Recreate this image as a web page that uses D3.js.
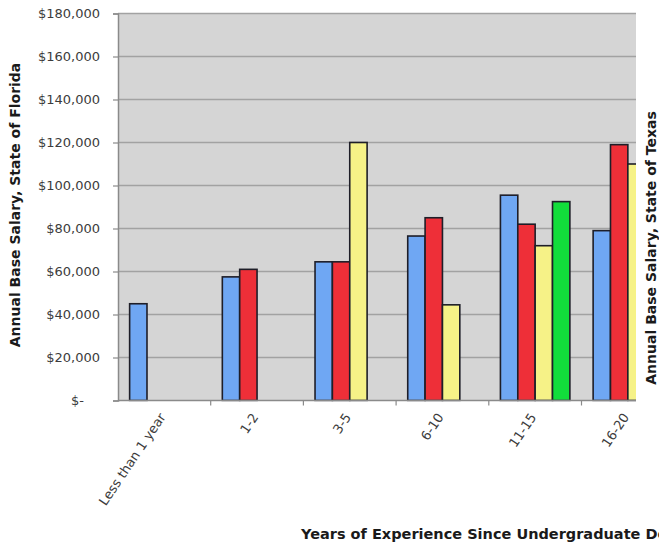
<!DOCTYPE html>
<html>
<head>
<meta charset="utf-8">
<script src="https://cdn.jsdelivr.net/npm/d3@7/dist/d3.min.js"></script>
<style>
  html, body { margin: 0; padding: 0; background: #fff; }
  svg { display: block; }
  text { font-family: "DejaVu Sans", Verdana, sans-serif; }
</style>
</head>
<body>
<svg id="chart" width="659" height="543"></svg>
<script>
// Experience bands along the x axis
const categories = ["Less than 1 year", "1-2", "3-5", "6-10", "11-15", "16-20"];

// Salary series (null = no bar in that band)
const seriesBlue   = [45000, 57500, 64500, 76500, 95500, 79000];
const seriesRed    = [null, 61000, 64500, 85000, 82000, 119000];
const seriesYellow = [null, null, 120000, 44500, 72000, 110000];
const seriesGreen  = [null, null, null, null, 92500, null];

const seriesNames = ["blue", "red", "yellow", "green"];
const seriesValues = [seriesBlue, seriesRed, seriesYellow, seriesGreen];
const seriesColors = ["#6fa7f3", "#ee2f38", "#f6f287", "#12dd3b"];

// Axis ticks
const yTicks = [0, 20000, 40000, 60000, 80000, 100000, 120000, 140000, 160000, 180000];

const svg = d3.select("#chart");

const plot = { left: 118, right: 636, top: 13.5, bottom: 400.5 };
const bandStep = 92.7;

const x0 = d3.scaleBand()
  .domain(categories)
  .range([plot.left, plot.left + bandStep * categories.length])
  .paddingInner(0)
  .paddingOuter(0);

const x1 = d3.scaleBand()
  .domain(seriesNames)
  .range([0, x0.bandwidth()])
  .paddingInner(0)
  .paddingOuter(0.67);

const y = d3.scaleLinear()
  .domain([0, 180000])
  .range([plot.bottom, plot.top]);

// Plot background
svg.append("rect")
  .attr("x", plot.left)
  .attr("y", plot.top)
  .attr("width", plot.right - plot.left)
  .attr("height", plot.bottom - plot.top)
  .attr("fill", "#d5d5d5");

// Horizontal gridlines
svg.append("g")
  .selectAll("line")
  .data(yTicks.filter(d => d > 0))
  .join("line")
  .attr("x1", plot.left)
  .attr("x2", plot.right)
  .attr("y1", d => y(d))
  .attr("y2", d => y(d))
  .attr("stroke", "#a2a2a2")
  .attr("stroke-width", 1.6);

svg.append("clipPath")
  .attr("id", "plotClip")
  .append("rect")
  .attr("x", plot.left)
  .attr("y", 0)
  .attr("width", plot.right - plot.left)
  .attr("height", plot.bottom + 1);

// Bars
const rows = [];
categories.forEach((c, i) => {
  seriesNames.forEach((s, j) => {
    const v = seriesValues[j][i];
    if (v != null) rows.push({ category: c, series: s, value: v, color: seriesColors[j] });
  });
});

svg.append("g")
  .attr("clip-path", "url(#plotClip)")
  .selectAll("rect")
  .data(rows)
  .join("rect")
  .attr("x", d => x0(d.category) + x1(d.series))
  .attr("y", d => y(d.value))
  .attr("width", x1.bandwidth())
  .attr("height", d => y(0) - y(d.value))
  .attr("fill", d => d.color)
  .attr("stroke", "#1e1e28")
  .attr("stroke-width", 1.6);

// Y axis
const yAxis = d3.axisLeft(y)
  .tickValues(yTicks)
  .tickSize(5)
  .tickPadding(13)
  .tickFormat(d => d === 0 ? "$-" : "$" + d3.format(",")(d));

const gy = svg.append("g")
  .attr("transform", `translate(${plot.left},0)`)
  .call(yAxis);
gy.select(".domain").attr("stroke", "#8a8a8a").attr("stroke-width", 1.5);
gy.selectAll(".tick line").attr("stroke", "#8a8a8a").attr("stroke-width", 1.2);
gy.selectAll(".tick text")
  .attr("font-size", 13)
  .attr("fill", "#3c3c3c")
  .attr("font-family", "DejaVu Sans, Verdana, sans-serif")
  .attr("dx", d => d === 0 ? -16 : 0);

// X axis baseline and ticks
const gx = svg.append("g");
gx.append("line")
  .attr("x1", plot.left)
  .attr("x2", plot.right)
  .attr("y1", y(0))
  .attr("y2", y(0))
  .attr("stroke", "#8a8a8a")
  .attr("stroke-width", 1.5);

gx.selectAll("line.tick")
  .data(categories.slice(1))
  .join("line")
  .attr("class", "tick")
  .attr("x1", d => x0(d))
  .attr("x2", d => x0(d))
  .attr("y1", y(0))
  .attr("y2", y(0) + 5)
  .attr("stroke", "#8a8a8a")
  .attr("stroke-width", 1.2);

gx.selectAll("text")
  .data(categories)
  .join("text")
  .attr("transform", d => `translate(${x0(d) + x0.bandwidth() / 2 - 2},${y(0) + 14}) rotate(-56)`)
  .attr("text-anchor", "end")
  .attr("dy", "0.35em")
  .attr("font-size", 13)
  .attr("fill", "#3c3c3c")
  .text(d => d);

// Axis titles
svg.append("text")
  .attr("transform", `translate(20,205) rotate(-90)`)
  .attr("text-anchor", "middle")
  .attr("font-size", 14)
  .attr("font-weight", "bold")
  .attr("fill", "#1a1a1a")
  .text("Annual Base Salary, State of Florida");

svg.append("text")
  .attr("transform", `translate(656,248) rotate(-90)`)
  .attr("text-anchor", "middle")
  .attr("font-size", 14)
  .attr("font-weight", "bold")
  .attr("fill", "#1a1a1a")
  .text("Annual Base Salary, State of Texas");

svg.append("text")
  .attr("x", 301)
  .attr("y", 539)
  .attr("font-size", 14.5)
  .attr("font-weight", "bold")
  .attr("fill", "#1a1a1a")
  .text("Years of Experience Since Undergraduate Degree");
</script>
</body>
</html>
